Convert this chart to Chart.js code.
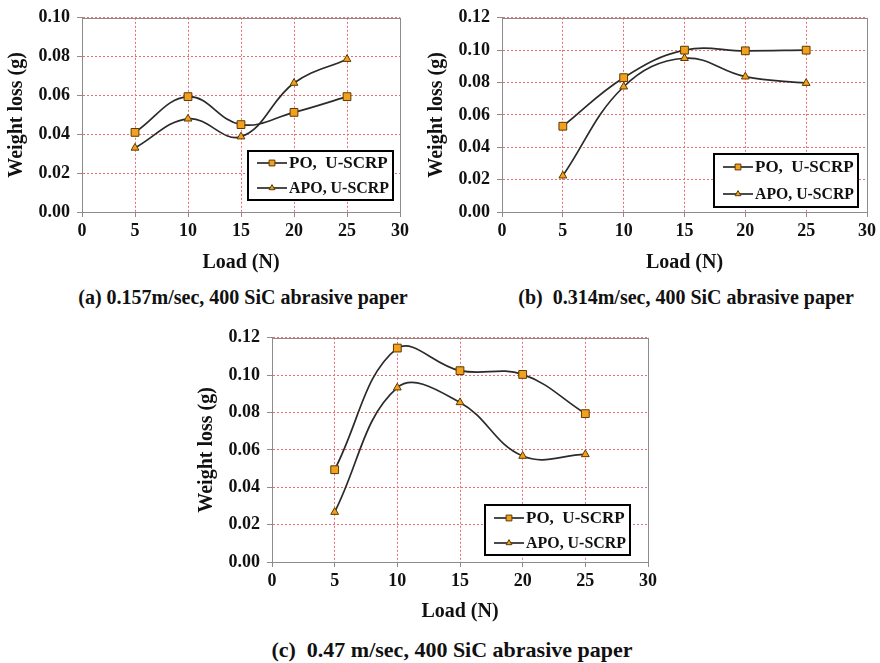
<!DOCTYPE html>
<html>
<head>
<meta charset="utf-8">
<script src="https://cdn.jsdelivr.net/npm/chart.js@4.4.1/dist/chart.umd.min.js"></script>
<style>
  body { margin: 0; background: #fff; width: 880px; height: 663px; position: relative; overflow: hidden;
         font-family: "Liberation Serif", "Times New Roman", serif; }
  canvas { position: absolute; }
  .cap { position: absolute; font-weight: bold; white-space: pre; transform: translate(-50%, -50%); color: #111; }
</style>
</head>
<body>
<canvas id="chartA" width="420" height="275" style="left:0;top:0"></canvas>
<canvas id="chartB" width="460" height="275" style="left:420px;top:0"></canvas>
<canvas id="chartC" width="480" height="304" style="left:190px;top:320px"></canvas>
<div class="cap" id="capA" style="left:243px;top:297px;font-size:20px"></div>
<div class="cap" id="capB" style="left:686px;top:297px;font-size:20px"></div>
<div class="cap" id="capC" style="left:452px;top:650px;font-size:22px"></div>
<script>
// load values on the x axis (N)
const loads = [5, 10, 15, 20, 25];
const seriesNames = ['PO,  U-SCRP', 'APO, U-SCRP'];

// weight loss (g)
const poA  = [0.041, 0.0594, 0.045, 0.0513, 0.0594];
const apoA = [0.033, 0.048, 0.0388, 0.0664, 0.0787];
const poB  = [0.053, 0.083, 0.100, 0.0996, 0.100];
const apoB = [0.0224, 0.0774, 0.095, 0.0836, 0.0796];
const poC  = [0.0494, 0.1145, 0.1024, 0.1004, 0.0794];
const apoC = [0.0267, 0.0933, 0.0854, 0.0567, 0.0576];

const xMax = 30, xStep = 5;
const yMaxA = 0.10, yMaxB = 0.12, yMaxC = 0.12, yStep = 0.02;

const xTitle = 'Load (N)';
const yTitle = 'Weight loss (g)';
const captions = [
  '(a) 0.157m/sec, 400 SiC abrasive paper',
  '(b)  0.314m/sec, 400 SiC abrasive paper',
  '(c)  0.47 m/sec, 400 SiC abrasive paper'
];

const FONT = '"Liberation Serif", "Times New Roman", serif';
const LINE = '#2b2b2b';
const MARK = '#f2a01e';
const MARK_EDGE = '#5c3b00';
const GRID = '#ea6d74';
const AXIS = '#8c8c8c';

// grey frame round the plot area plus the boxed legend
const boxLegend = {
  id: 'boxLegend',
  afterDraw(chart, args, opts) {
    const ctx = chart.ctx, a = chart.chartArea;
    ctx.save();
    ctx.strokeStyle = AXIS;
    ctx.lineWidth = 1;
    ctx.strokeRect(Math.round(a.left) + 0.5, Math.round(a.top) + 0.5,
                   Math.round(a.width), Math.round(a.height));

    const w = opts.width, h = opts.height;
    const x0 = Math.round(a.right - opts.right - w);
    const y0 = Math.round(a.bottom - opts.bottom - h);
    ctx.fillStyle = '#fff';
    ctx.fillRect(x0, y0, w, h);
    ctx.lineWidth = 2;
    ctx.strokeStyle = '#000';
    ctx.strokeRect(x0, y0, w, h);

    chart.data.datasets.forEach((ds, i) => {
      const cy = y0 + Math.round(h * 0.25) + i * Math.round(h * 0.5);
      ctx.strokeStyle = ds.borderColor;
      ctx.lineWidth = ds.borderWidth;
      ctx.beginPath();
      ctx.moveTo(x0 + 9, cy);
      ctx.lineTo(x0 + 39, cy);
      ctx.stroke();
      ctx.fillStyle = ds.pointBackgroundColor;
      ctx.strokeStyle = ds.pointBorderColor;
      ctx.lineWidth = ds.pointBorderWidth;
      Chart.helpers.drawPoint(ctx, {
        pointStyle: ds.pointStyle, radius: ds.pointRadius * 0.75,
        rotation: 0, borderWidth: ds.pointBorderWidth
      }, x0 + 24, cy);
      ctx.fillStyle = '#111';
      ctx.font = 'bold 17px ' + FONT;
      ctx.textBaseline = 'middle';
      ctx.fillText(ds.label, x0 + 41, cy + 1, w - 45);
    });
    ctx.restore();
  }
};

function series(label, values, style, radius) {
  return {
    label: label,
    data: loads.map((x, i) => ({ x: x, y: values[i] })),
    showLine: true,
    tension: 0.4,
    borderColor: LINE,
    borderWidth: 1.7,
    pointStyle: style,
    pointRadius: radius,
    pointBackgroundColor: MARK,
    pointBorderColor: MARK_EDGE,
    pointBorderWidth: 1
  };
}

function makeChart(id, po, apo, yMax, lay) {
  new Chart(document.getElementById(id), {
    type: 'scatter',
    data: {
      datasets: [
        series(seriesNames[0], po, 'rect', 5.5),
        series(seriesNames[1], apo, 'triangle', 4.5)
      ]
    },
    options: {
      responsive: false,
      animation: false,
      layout: { padding: { top: lay.top, right: lay.right, left: 0, bottom: 0 } },
      plugins: {
        legend: { display: false },
        tooltip: { enabled: false },
        boxLegend: lay.legend
      },
      scales: {
        x: {
          type: 'linear', min: 0, max: xMax,
          ticks: { stepSize: xStep, color: '#111', padding: 4, font: { family: FONT, size: 18, weight: 'bold' } },
          grid: { color: GRID, tickColor: AXIS, tickLength: 5, tickBorderDash: [] },
          border: { color: AXIS, dash: [2, 2] },
          title: { display: true, text: xTitle, color: '#111', padding: 0,
                   font: { family: FONT, size: 20, weight: 'bold' } },
          afterFit: s => { s.height = lay.xHeight; }
        },
        y: {
          min: 0, max: yMax,
          ticks: { stepSize: yStep, color: '#111', padding: 7,
                   font: { family: FONT, size: 18, weight: 'bold' },
                   callback: v => v.toFixed(2) },
          grid: { color: GRID, tickColor: AXIS, tickLength: 5, tickBorderDash: [] },
          border: { color: AXIS, dash: [2, 2] },
          title: { display: true, text: yTitle, color: '#111', padding: { top: 5, bottom: 0 },
                   font: { family: FONT, size: lay.ySize, weight: 'bold' } },
          afterFit: s => { s.width = 82; }
        }
      }
    },
    plugins: [boxLegend]
  });
}

makeChart('chartA', poA, apoA, yMaxA, {
  top: 13, right: 20, xHeight: 63, ySize: 20,
  legend: { right: 7, bottom: 12, width: 145, height: 49 }
});
makeChart('chartB', poB, apoB, yMaxB, {
  top: 14, right: 9, xHeight: 63, ySize: 20,
  legend: { right: 9, bottom: 5, width: 144, height: 53 }
});
makeChart('chartC', poC, apoC, yMaxC, {
  top: 17, right: 22, xHeight: 62, ySize: 20,
  legend: { right: 18, bottom: 7, width: 145, height: 50 }
});

document.getElementById('capA').textContent = captions[0];
document.getElementById('capB').textContent = captions[1];
document.getElementById('capC').textContent = captions[2];
</script>
</body>
</html>
